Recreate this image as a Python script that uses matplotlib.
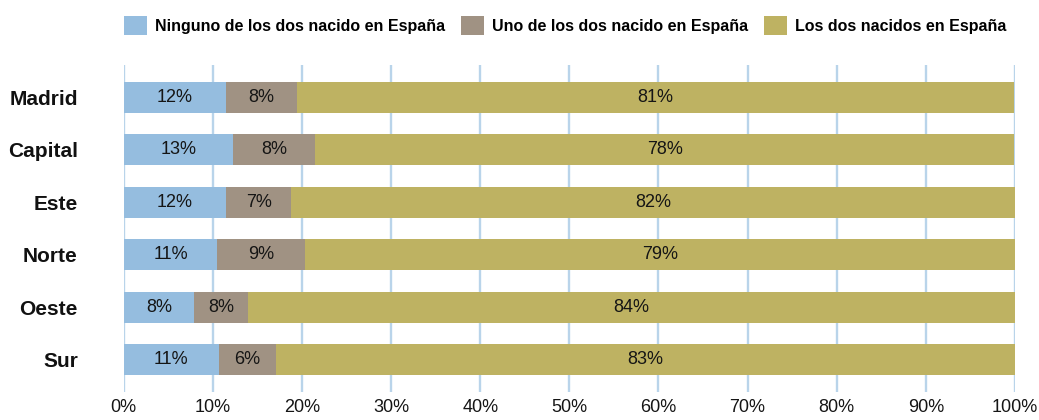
import matplotlib
matplotlib.use("Agg")
import matplotlib.pyplot as plt
from matplotlib.patches import Patch

regions = ["Madrid", "Capital", "Este", "Norte", "Oeste", "Sur"]
series_names = ["Ninguno de los dos nacido en España",
                "Uno de los dos nacido en España",
                "Los dos nacidos en España"]
ninguno = [11.5, 12.3, 11.5, 10.5, 7.9, 10.7]
uno = [7.9, 9.2, 7.3, 9.8, 6.1, 6.4]
los_dos = [80.5, 78.4, 81.3, 79.7, 86.0, 82.9]
label_ninguno = ["12%", "13%", "12%", "11%", "8%", "11%"]
label_uno = ["8%", "8%", "7%", "9%", "8%", "6%"]
label_los_dos = ["81%", "78%", "82%", "79%", "84%", "83%"]
x_ticks = [0, 10, 20, 30, 40, 50, 60, 70, 80, 90, 100]

colors = ["#95bddf", "#a09283", "#beb262"]
grid_color = "#b9d4ea"
font = ["Liberation Sans", "DejaVu Sans"]

fig = plt.figure(figsize=(10.39, 4.20), dpi=100)
ax = fig.add_axes([123.7 / 1039, 28 / 420, 891.3 / 1039, 327 / 420])

y = list(range(len(regions)))
series = [ninguno, uno, los_dos]
labels = [label_ninguno, label_uno, label_los_dos]
left = [0] * len(regions)
for vals, labs, col in zip(series, labels, colors):
    bars = ax.barh(y, vals, left=left, height=0.59, color=col, zorder=2)
    for b, lab in zip(bars, labs):
        ax.text(b.get_x() + b.get_width() / 2, b.get_y() + b.get_height() / 2, lab,
                ha="center", va="center", fontsize=13, family=font,
                color="#151515", zorder=3)
    left = [l + v for l, v in zip(left, vals)]

ax.set_xlim(0, 100)
ax.set_ylim(5.62, -0.62)
ax.set_xticks(x_ticks)
ax.set_xticklabels([f"{t}%" for t in x_ticks], fontsize=13, family=font, color="#151515")
ax.set_yticks(y)
ax.set_yticklabels(regions, fontsize=15, family=font, fontweight="bold", color="#111111")
ax.tick_params(axis="y", length=0, pad=33)
ax.tick_params(axis="x", length=0, pad=5)
ax.grid(axis="x", color=grid_color, linewidth=1.7, zorder=0)
for s in ax.spines.values():
    s.set_visible(False)

handles = [Patch(facecolor=c, edgecolor="none") for c in colors]
fig.legend(handles, series_names, loc="center left",
           bbox_to_anchor=(124 / 1039, 1 - 25.5 / 420),
           ncol=3, frameon=False, borderpad=0, borderaxespad=0,
           handlelength=1.44, handleheight=1.44,
           handletextpad=0.5, columnspacing=1.0,
           prop={"family": font, "weight": "bold", "size": 11.5})

fig.savefig("out.png", dpi=100)
